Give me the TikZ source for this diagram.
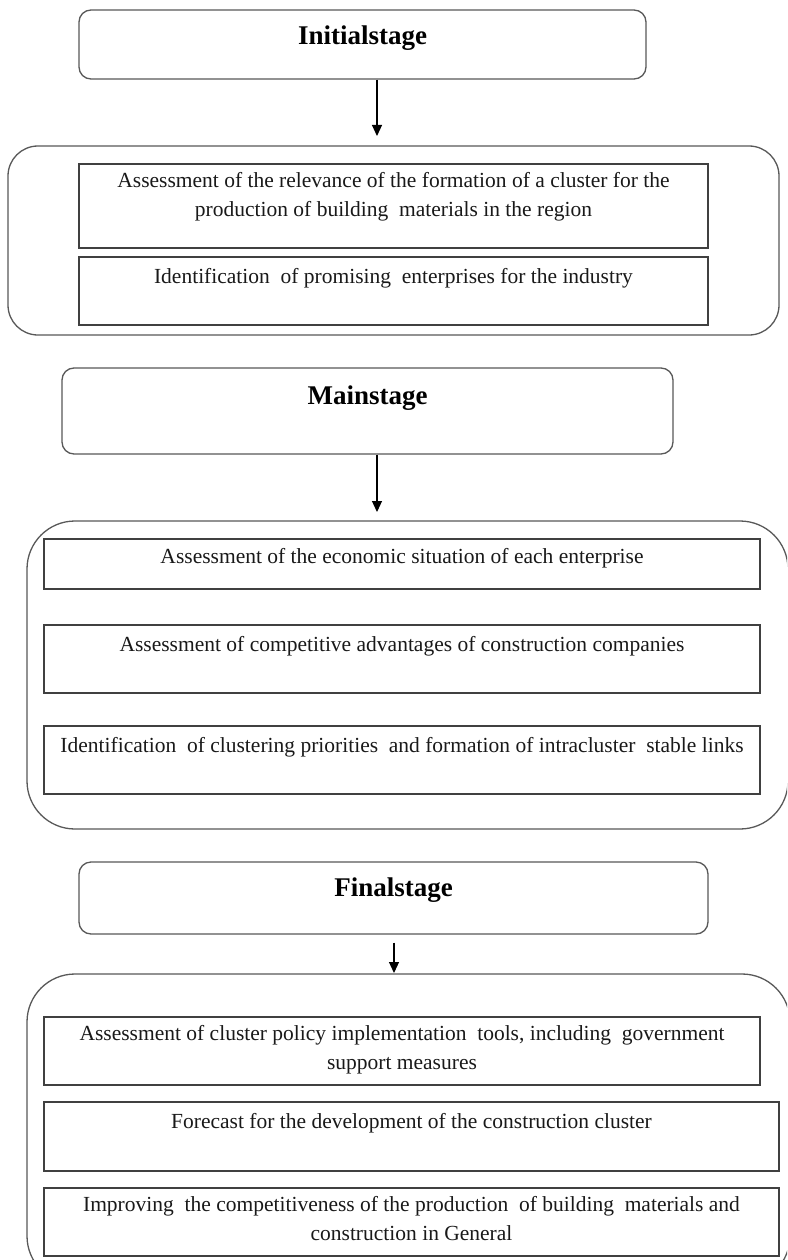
\documentclass[tikz,border=0pt]{standalone}
\usepackage{fontspec}
\setmainfont{Liberation Serif}
\usetikzlibrary{arrows.meta}
\begin{document}
\begin{tikzpicture}[x=1pt,y=-1pt,
 stagebox/.style={draw=black!65, line width=1.3pt, rounded corners=12pt, inner sep=0pt},
 groupbox/.style={draw=black!65, line width=1.3pt, inner sep=0pt},
 itembox/.style={draw=black!75, line width=1.6pt, inner sep=0pt},
 title/.style={font=\bfseries\fontsize{27}{32}\selectfont, inner sep=0pt},
 itemtext/.style={font=\fontsize{21.5}{29}\selectfont, align=center, inner sep=0pt, text=black!90},
 arr/.style={-{Triangle[length=11pt,width=10pt]}, line width=1.1pt}]
\useasboundingbox (0,0) rectangle (787,1260);
\clip (0,0) rectangle (787,1260);
\fill[white] (0,0) rectangle (787,1260);

% ---- Initial stage
\node[stagebox, minimum width=567pt, minimum height=69pt] (s1) at (362.5,44.5) {};
\node[title] (t1) at (362.5,38) {Initialstage};
\node[groupbox, rounded corners=30pt, minimum width=771pt, minimum height=189pt] (g1) at (393.5,240.5) {};
\node[itembox, minimum width=629pt, minimum height=84pt] (b11) at (393.5,206) {};
\node[itemtext] (x11) at (393.5,196.5) {Assessment of the relevance of the formation of a cluster for the\\production of building\ \ materials in the region};
\node[itembox, minimum width=629pt, minimum height=68pt] (b12) at (393.5,291) {};
\node[itemtext] (x12) at (393.5,278) {Identification\ \ of promising\ \ enterprises for the industry};
\coordinate (a1) at (377,136);
\draw[arr] (s1.south -| a1) -- (a1);

% ---- Main stage
\node[stagebox, minimum width=611pt, minimum height=86pt] (s2) at (367.5,411) {};
\node[title] (t2) at (367.5,398) {Mainstage};
\node[groupbox, rounded corners=48pt, minimum width=761pt, minimum height=308pt] (g2) at (407.5,675) {};
\node[itembox, minimum width=716pt, minimum height=50pt] (b21) at (402,564) {};
\node[itemtext] (x21) at (402,558) {Assessment of the economic situation of each enterprise};
\node[itembox, minimum width=716pt, minimum height=68pt] (b22) at (402,659) {};
\node[itemtext] (x22) at (402,646) {Assessment of competitive advantages of construction companies};
\node[itembox, minimum width=716pt, minimum height=68pt] (b23) at (402,760) {};
\node[itemtext] (x23) at (402,747) {Identification\ \ of clustering priorities\ \ and formation of intracluster\ \ stable links};
\coordinate (a2) at (377,512);
\draw[arr] (s2.south -| a2) -- (a2);

% ---- Final stage
\node[stagebox, minimum width=629pt, minimum height=72pt] (s3) at (393.5,898) {};
\node[title] (t3) at (393.5,890) {Finalstage};
\node[groupbox, rounded corners=48pt, minimum width=763pt, minimum height=310pt] (g3) at (408.5,1129) {};
\node[itembox, minimum width=716pt, minimum height=68pt] (b31) at (402,1051) {};
\node[itemtext] (x31) at (402,1049.5) {Assessment of cluster policy implementation\ \ tools, including\ \ government\\support measures};
\node[itembox, minimum width=735pt, minimum height=69pt] (b32) at (411.5,1136.5) {};
\node[itemtext] (x32) at (411.5,1123) {Forecast for the development of the construction cluster};
\node[itembox, minimum width=735pt, minimum height=68pt] (b33) at (411.5,1222) {};
\node[itemtext] (x33) at (411.5,1219) {Improving\ \ the competitiveness of the production\ \ of building\ \ materials and\\construction in General};
\coordinate (a3) at (394,973);
\draw[arr, shorten <=8pt] (s3.south -| a3) -- (a3);
\end{tikzpicture}
\end{document}
